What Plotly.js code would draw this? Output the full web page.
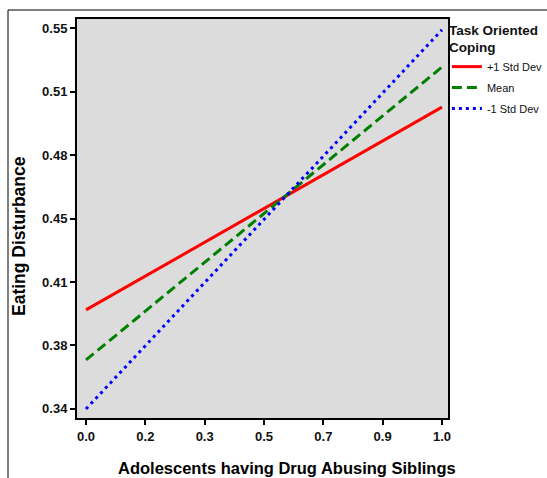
<!DOCTYPE html>
<html>
<head>
<meta charset="utf-8">
<script src="https://cdn.plot.ly/plotly-3.0.1.min.js"></script>
<style>html,body{margin:0;padding:0;background:#fff;}#chart{width:547px;height:478px;}</style>
</head>
<body>
<div id="chart"></div>
<script>
const xValues = [0, 1];
const plus1SD = [0.3946, 0.5064];
const meanSD = [0.367, 0.5285];
const minus1SD = [0.340, 0.549];
const seriesNames = ["+1 Std Dev", "Mean", "-1 Std Dev"];
const xTickVals = [0, 1/6, 2/6, 3/6, 4/6, 5/6, 1];
const xTickText = ["0.0", "0.2", "0.3", "0.5", "0.7", "0.9", "1.0"];
const yTickVals = [0.34, 0.375, 0.41, 0.445, 0.48, 0.515, 0.55];
const yTickText = ["0.34", "0.38", "0.41", "0.45", "0.48", "0.51", "0.55"];

const fontFam = "Liberation Sans, Arial, sans-serif";
const traces = [
  {x: xValues, y: plus1SD, name: seriesNames[0], legendgroup: "a", mode: "lines", line: {color: "#ff0000", width: 3}},
  {x: xValues, y: meanSD, name: seriesNames[1], legendgroup: "b", mode: "lines", line: {color: "#008000", width: 3, dash: "10px,5px"}},
  {x: xValues, y: minus1SD, name: seriesNames[2], legendgroup: "c", mode: "lines", line: {color: "#0000ff", width: 3, dash: "3px,4px"}}
];
const axisCommon = {
  showgrid: false, zeroline: false, showline: true, linecolor: "#000", linewidth: 2, mirror: true,
  ticks: "outside", ticklen: 5, tickwidth: 2, tickcolor: "#000",
  tickfont: {family: fontFam, size: 13, color: "#111", weight: "bold"}
};
const layout = {
  width: 547, height: 478,
  margin: {l: 77, r: 99, t: 19, b: 60, autoexpand: false},
  paper_bgcolor: "#ffffff", plot_bgcolor: "#dcdcdc",
  showlegend: true,
  xaxis: Object.assign({}, axisCommon, {range: [-0.0253, 1.0169], tickmode: "array", tickvals: xTickVals, ticktext: xTickText}),
  yaxis: Object.assign({}, axisCommon, {range: [0.335, 0.555], tickmode: "array", tickvals: yTickVals, ticktext: yTickText}),
  legend: {
    x: 0.997, y: 1.005, xanchor: "left", yanchor: "top",
    bgcolor: "rgba(0,0,0,0)", itemwidth: 30, tracegroupgap: 2,
    font: {family: fontFam, size: 11, color: "#111"},
    title: {text: "Task Oriented<br>Coping", font: {family: fontFam, size: 13.5, color: "#111", weight: "bold"}}
  },
  annotations: [
    {text: "Adolescents having Drug Abusing Siblings", xref: "paper", yref: "paper", x: (287-77)/371, y: (418-468)/399,
     xanchor: "center", yanchor: "middle", showarrow: false, font: {family: fontFam, size: 16.5, color: "#000", weight: "bold"}},
    {text: "Eating Disturbance", xref: "paper", yref: "paper", x: (19-77)/371, y: (418-236)/399, textangle: -90,
     xanchor: "center", yanchor: "middle", showarrow: false, font: {family: fontFam, size: 17.5, color: "#000", weight: "bold"}}
  ],
  shapes: [
    {type: "line", xref: "paper", yref: "paper", x0: (8-77)/371, x1: (547-77)/371, y0: (418-10)/399, y1: (418-10)/399, line: {color: "#000", width: 1}},
    {type: "line", xref: "paper", yref: "paper", x0: (8-77)/371, x1: (8-77)/371, y0: (418-10)/399, y1: (418-478)/399, line: {color: "#000", width: 1}}
  ]
};
Plotly.newPlot("chart", traces, layout, {displayModeBar: false, staticPlot: true});
</script>
</body>
</html>
